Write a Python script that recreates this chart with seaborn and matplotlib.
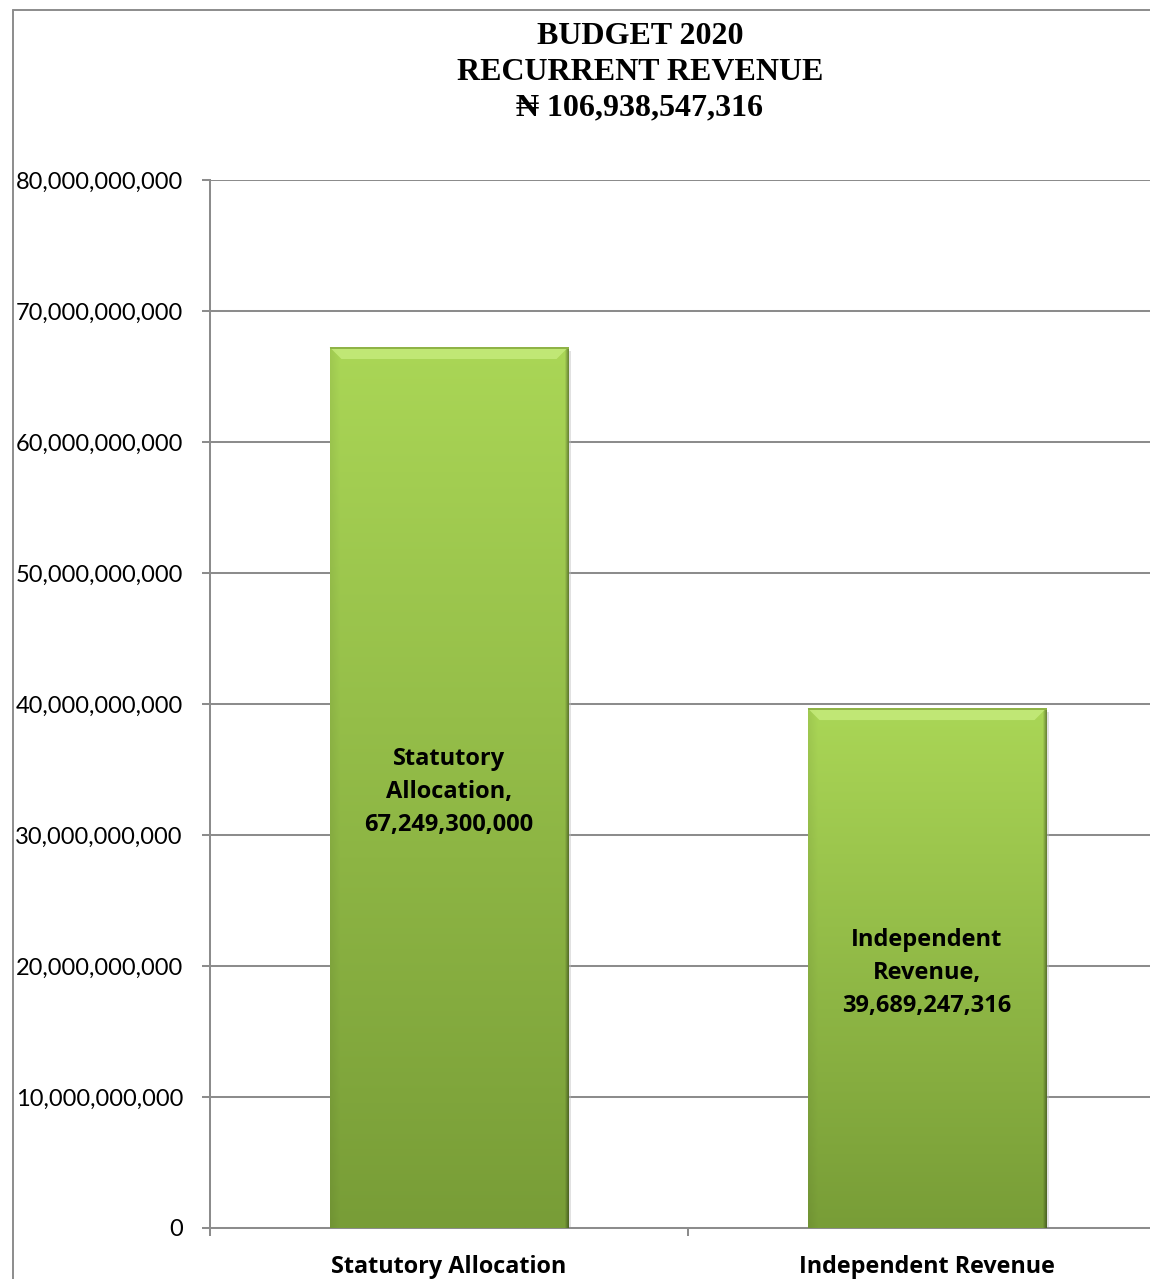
import numpy as np
import pandas as pd
import matplotlib
matplotlib.use("Agg")
import matplotlib.pyplot as plt
from matplotlib.lines import Line2D
from matplotlib.patches import Polygon, Rectangle
from matplotlib.ticker import FuncFormatter, FixedLocator
import seaborn as sns

# Recurrent revenue sources for the 2020 budget (Naira)
categories = ["Statutory Allocation", "Independent Revenue"]
amounts = [67249300000, 39689247316]
y_ticks = [0, 10e9, 20e9, 30e9, 40e9, 50e9, 60e9, 70e9, 80e9]

df = pd.DataFrame({"category": categories, "amount": amounts})
total = sum(amounts)

sns.set_theme(style="white")
plt.rcParams["font.family"] = ["Lato", "DejaVu Sans"]
bold_family = ["Open Sans", "DejaVu Sans"]

W, H = 1150, 1279
fig = plt.figure(figsize=(W / 100, H / 100), dpi=100)
fig.patch.set_facecolor("white")

# plot area (pixel geometry of the chart frame)
x0, x1 = 210, 1166
y_top, y_bot = 180, 1228
ax = fig.add_axes([x0 / W, 1 - y_bot / H, (x1 - x0) / W, (y_bot - y_top) / H])

grid_c = "#8C8C8C"
sns.barplot(data=df, x="category", y="amount", width=0.5, color="#A3C94F",
            ax=ax, zorder=3, linewidth=0, saturation=1)

ax.set_xlim(-0.5, 1.5)
ax.set_ylim(0, 80e9)
ax.set_xlabel("")
ax.set_ylabel("")

# gridlines and axes
ax.yaxis.set_major_locator(FixedLocator(y_ticks))
ax.yaxis.set_major_formatter(FuncFormatter(lambda v, p: f"{int(v):,}"))
ax.grid(axis="y", color=grid_c, linewidth=1.45, zorder=0)
ax.set_axisbelow(True)
for s in ["top", "right"]:
    ax.spines[s].set_visible(False)
for s in ["left", "bottom"]:
    ax.spines[s].set_color(grid_c)
    ax.spines[s].set_linewidth(1.45)
ax.tick_params(axis="y", which="major", left=True, length=6, width=1.45,
               color=grid_c, labelsize=17, pad=13.5, labelcolor="black")

# category boundaries as ticks, names as minor tick labels
ax.set_xticks([-0.5, 0.5, 1.5])
ax.set_xticklabels(["", "", ""])
ax.set_xticks([0, 1], minor=True)
ax.set_xticklabels(categories, minor=True, fontweight="bold", fontsize=16.8,
                   family=bold_family)
ax.tick_params(axis="x", which="major", bottom=True, length=6, width=1.45,
               color=grid_c)
ax.tick_params(axis="x", which="minor", bottom=False, length=0, pad=19.5,
               labelcolor="black")

fig.canvas.draw()
inv = ax.transData.inverted()


def px_to_data(dx, dy):
    a = inv.transform((0, 0))
    b = inv.transform((dx, dy))
    return b[0] - a[0], b[1] - a[1]


top_rgb = np.array(matplotlib.colors.to_rgb("#AAD656"))
bot_rgb = np.array(matplotlib.colors.to_rgb("#789D37"))

for patch, cat, val in zip(ax.patches, categories, amounts):
    bx, bw, bh = patch.get_x(), patch.get_width(), patch.get_height()
    # soft drop shadow
    sdx, sdy = px_to_data(4, 4)
    ax.add_patch(Rectangle((bx + sdx * 0.5, -sdy), bw, bh, facecolor="#BDBDBD",
                           alpha=0.45, linewidth=0, zorder=2.5))
    # vertical gradient fill with darker side edges
    ny, nx = 256, 200
    t = np.linspace(0, 1, ny)[:, None]
    grad = top_rgb[None, None, :] * (1 - t[..., None]) + bot_rgb[None, None, :] * t[..., None]
    grad = np.repeat(grad, nx, axis=1)
    xs = np.linspace(0, 1, nx)
    shade = np.ones(nx)
    shade -= 0.06 * np.clip(1 - xs / 0.04, 0, 1)
    shade -= 0.35 * np.clip(1 - (1 - xs) / 0.015, 0, 1)
    grad = grad * shade[None, :, None]
    im = ax.imshow(grad, extent=(bx, bx + bw, 0, bh), origin="upper",
                   aspect="auto", zorder=3.2, interpolation="bilinear")
    im.set_clip_path(patch)
    # top bevel highlight
    ddx, ddy = px_to_data(12, 12)
    bevel = Polygon([(bx, bh), (bx + bw, bh), (bx + bw - ddx, bh - ddy), (bx + ddx, bh - ddy)],
                    closed=True, facecolor="#C9EE80", alpha=0.75, linewidth=0, zorder=3.3)
    ax.add_patch(bevel)
    ax.add_patch(Polygon([(bx, bh), (bx + bw, bh), (bx + bw, bh - ddy * 0.18), (bx, bh - ddy * 0.18)],
                         closed=True, facecolor="#8FB346", linewidth=0, zorder=3.4))
    # value label in the middle of the bar
    label = cat.replace(" ", "\n") + ",\n" + f"{val:,}"
    ax.annotate(label, xy=(bx + bw / 2, bh / 2), xytext=(0, -3.5),
                textcoords="offset points", ha="center", va="center",
                fontsize=17, fontweight="bold", family=bold_family,
                color="black", linespacing=1.5, zorder=5)

ax.set_xlim(-0.5, 1.5)
ax.set_ylim(0, 80e9)

# title
fig.text(640 / W, 1 - 72.5 / H,
         f"BUDGET 2020\nRECURRENT REVENUE\n\u20a6 {total:,}",
         ha="center", va="center", fontsize=23, fontweight="bold",
         family=["Liberation Serif", "DejaVu Serif"], linespacing=1.31,
         color="black")

# chart frame (left and top edges)
fig.add_artist(Line2D([12.5 / W, 12.5 / W], [0, 1 - 10 / H], color=grid_c, lw=1.4,
                      transform=fig.transFigure))
fig.add_artist(Line2D([12.5 / W, 1], [1 - 10 / H, 1 - 10 / H], color=grid_c, lw=1.4,
                      transform=fig.transFigure))

fig.savefig("out.png", dpi=100)
